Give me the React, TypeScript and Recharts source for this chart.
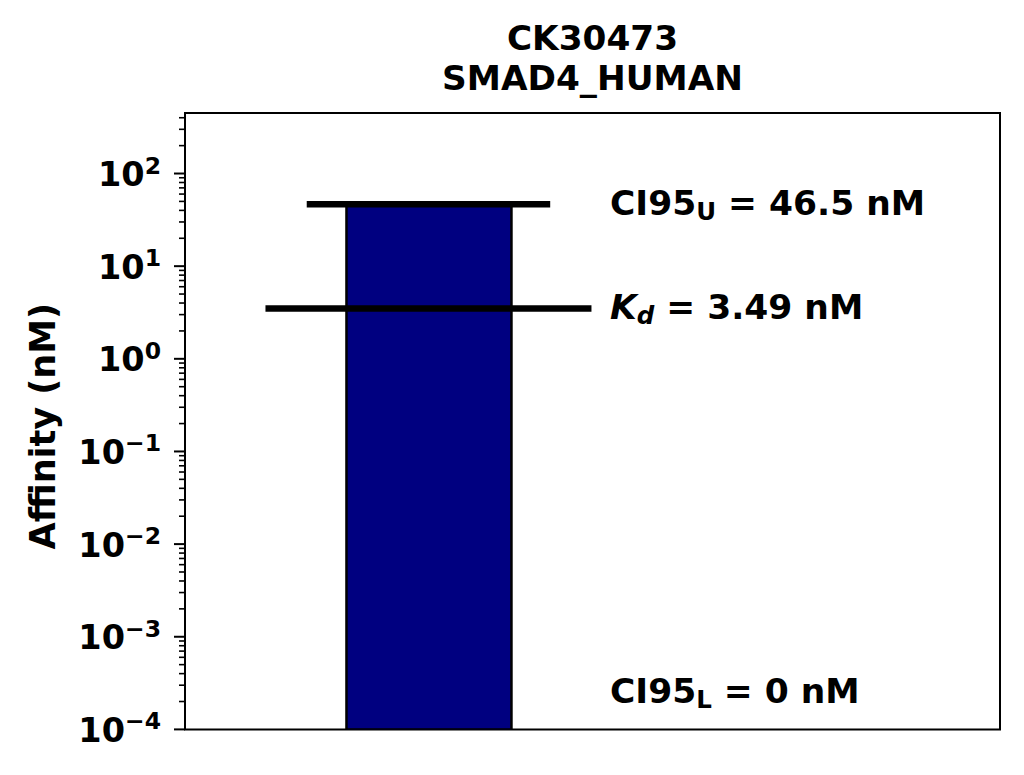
import React from 'react';
import {
  ComposedChart,
  Bar,
  XAxis,
  YAxis,
  ReferenceLine,
  ReferenceArea,
  ReferenceDot,
} from 'recharts';

// ---- data ----
const titleLines = ['CK30473', 'SMAD4_HUMAN'];
const yAxisLabel = 'Affinity (nM)';
const barPositions = [0];
const ci95UpperValues = [46.5];
const kdValues = [3.49];
const ci95LowerValues = [0];
const majorTickValues = [1e-4, 1e-3, 1e-2, 1e-1, 1, 10, 100];
const majorTickExponents = ['\u22124', '\u22123', '\u22122', '\u22121', '0', '1', '2'];
const minorMultipliers = [2, 3, 4, 5, 6, 7, 8, 9];
const yDomain: [number, number] = [1e-4, 450];
const xDomain: [number, number] = [-1.18, 2.77];
const ciHalfWidth = 0.59;
const kdHalfWidth = 0.79;
const annotationX = 0.88;

const FONT = '"DejaVu Sans", sans-serif';

const data = barPositions.map((x, i) => ({ x, upper: ci95UpperValues[i] }));

const minorTicks: number[] = [];
majorTickValues.forEach((m) => {
  minorMultipliers.forEach((k) => {
    const v = m * k;
    if (v <= yDomain[1]) minorTicks.push(v);
  });
});
const allTicks = [...majorTickValues, ...minorTicks].sort((a, b) => a - b);

const YTick = (props: any) => {
  const { x, y, payload } = props;
  const v = payload.value;
  const idx = majorTickValues.findIndex((m) => Math.abs(m - v) / m < 1e-9);
  const isMajor = idx >= 0;
  return (
    <g>
      <line
        x1={x - (isMajor ? 11 : 6)}
        x2={x}
        y1={y}
        y2={y}
        stroke="#000"
        strokeWidth={isMajor ? 2 : 1.6}
      />
      {isMajor && (
        <text
          x={x - 24}
          y={y + 12.5}
          textAnchor="end"
          fontFamily={FONT}
          fontWeight="bold"
          fontSize={33.5}
          fill="#000"
        >
          10
          <tspan dy={-12.5} fontSize={23.5}>
            {majorTickExponents[idx]}
          </tspan>
        </text>
      )}
    </g>
  );
};

const YLabel = (props: any) => {
  const vb = props.viewBox;
  const cx = vb.x + 47;
  const cy = vb.y + vb.height / 2 + 5;
  return (
    <text
      x={cx}
      y={cy}
      transform={`rotate(-90, ${cx}, ${cy})`}
      textAnchor="middle"
      fontFamily={FONT}
      fontWeight="bold"
      fontSize={35}
      fill="#000"
    >
      {yAxisLabel}
    </text>
  );
};

const Title = (props: any) => {
  const vb = props.viewBox;
  const cx = vb.x + vb.width / 2;
  return (
    <g>
      <text x={cx} y={vb.y - 63} textAnchor="middle" fontFamily={FONT} fontWeight="bold" fontSize={34.3} fill="#000">
        {titleLines[0]}
      </text>
      <text x={cx} y={vb.y - 23} textAnchor="middle" fontFamily={FONT} fontWeight="bold" fontSize={34.3} fill="#000">
        {titleLines[1]}
      </text>
    </g>
  );
};

const makeCiAnno = (sub: string, value: number, dyBase: number) => (props: any) => {
  const { cx, cy } = props;
  return (
    <text x={cx} y={cy + dyBase} fontFamily={FONT} fontWeight="bold" fontSize={34.5} fill="#000">
      CI95
      <tspan dy={5} fontSize={24.5}>{sub}</tspan>
      <tspan dy={-5}>{` = ${value} nM`}</tspan>
    </text>
  );
};

const KdAnno = (props: any) => {
  const { cx, cy } = props;
  return (
    <text x={cx} y={cy + 10.5} fontFamily={FONT} fontWeight="bold" fontSize={34.5} fill="#000">
      <tspan fontStyle="italic">K</tspan>
      <tspan dy={5} fontSize={24.5} fontStyle="italic">d</tspan>
      <tspan dy={-5}>{` = ${kdValues[0]} nM`}</tspan>
    </text>
  );
};

export default function App() {
  return (
    <div style={{ width: 1008, height: 767 }}>
      <ComposedChart
        width={1008}
        height={767}
        data={data}
        margin={{ top: 105, right: 16, bottom: 45.6, left: 0 }}
      >
        <XAxis
          type="number"
          dataKey="x"
          domain={xDomain}
          allowDataOverflow
          hide
        />
        <YAxis
          scale="log"
          type="number"
          domain={yDomain}
          allowDataOverflow
          ticks={allTicks}
          interval={0}
          width={177}
          tickSize={0}
          tickMargin={0}
          tickLine={false}
          axisLine={{ stroke: '#000', strokeWidth: 2 }}
          tick={<YTick />}
          label={{ content: <YLabel /> }}
        />
        <Bar
          dataKey="upper"
          fill="#000080"
          stroke="#000"
          strokeWidth={2.5}
          barSize={165}
          isAnimationActive={false}
        />
        <ReferenceLine
          segment={[
            { x: barPositions[0] - ciHalfWidth, y: ci95UpperValues[0] },
            { x: barPositions[0] + ciHalfWidth, y: ci95UpperValues[0] },
          ]}
          stroke="#000"
          strokeWidth={6.5}
        />
        <ReferenceLine
          segment={[
            { x: barPositions[0] - kdHalfWidth, y: kdValues[0] },
            { x: barPositions[0] + kdHalfWidth, y: kdValues[0] },
          ]}
          stroke="#000"
          strokeWidth={6.5}
        />
        <ReferenceDot
          x={annotationX}
          y={ci95UpperValues[0]}
          r={0}
          shape={makeCiAnno('U', ci95UpperValues[0], 10.5)}
        />
        <ReferenceDot x={annotationX} y={kdValues[0]} r={0} shape={<KdAnno />} />
        <ReferenceDot
          x={annotationX}
          y={yDomain[0]}
          r={0}
          ifOverflow="visible"
          shape={makeCiAnno('L', ci95LowerValues[0], -26.5)}
        />
        <ReferenceArea
          x1={xDomain[0]}
          x2={xDomain[1]}
          y1={yDomain[0]}
          y2={yDomain[1]}
          fill="none"
          fillOpacity={0}
          stroke="#000"
          strokeWidth={2}
          label={{ content: <Title /> }}
        />
      </ComposedChart>
    </div>
  );
}
